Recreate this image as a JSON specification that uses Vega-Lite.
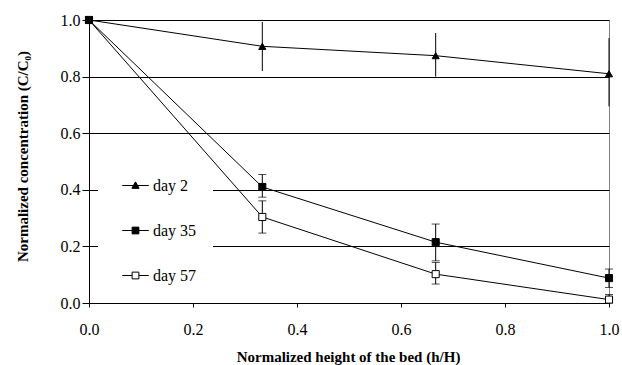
{
  "$schema": "https://vega.github.io/schema/vega-lite/v6.json",
  "width": 520,
  "height": 283,
  "autosize": {"type": "none"},
  "padding": {"left": 89, "top": 20, "right": 13, "bottom": 62},
  "background": "white",
  "config": {
    "font": "Liberation Serif, Times New Roman, serif",
    "view": {"stroke": "#808080", "strokeWidth": 1},
    "axis": {"labelFont": "Liberation Serif, Times New Roman, serif", "titleFont": "Liberation Serif, Times New Roman, serif"},
    "legend": {"labelFont": "Liberation Serif, Times New Roman, serif"}
  },
  "data": {
    "values": [
      {"series": "day 57", "h": 0, "c": 1.0, "lo": null, "hi": null},
      {"series": "day 57", "h": 0.3333, "c": 0.304, "lo": 0.247, "hi": 0.361},
      {"series": "day 57", "h": 0.6667, "c": 0.102, "lo": 0.067, "hi": 0.143},
      {"series": "day 57", "h": 1.0, "c": 0.012, "lo": 0.0, "hi": 0.03},
      {"series": "day 2", "h": 0, "c": 1.0, "lo": null, "hi": null},
      {"series": "day 2", "h": 0.3333, "c": 0.907, "lo": 0.82, "hi": 0.993},
      {"series": "day 2", "h": 0.6667, "c": 0.874, "lo": 0.8, "hi": 0.954},
      {"series": "day 2", "h": 1.0, "c": 0.81, "lo": 0.695, "hi": 0.936},
      {"series": "day 35", "h": 0, "c": 1.0, "lo": null, "hi": null},
      {"series": "day 35", "h": 0.3333, "c": 0.41, "lo": 0.374, "hi": 0.454},
      {"series": "day 35", "h": 0.6667, "c": 0.215, "lo": 0.149, "hi": 0.279},
      {"series": "day 35", "h": 1.0, "c": 0.088, "lo": 0.055, "hi": 0.12}
    ]
  },
  "resolve": {"scale": {"shape": "independent", "fill": "independent"}},
  "layer": [
    {
      "mark": {"type": "line", "color": "black", "strokeWidth": 1},
      "encoding": {
        "x": {
          "field": "h", "type": "quantitative",
          "scale": {"domain": [0, 1], "nice": false, "zero": false},
          "axis": {
            "values": [0, 0.2, 0.4, 0.6, 0.8, 1.0],
            "format": ".1f",
            "grid": false,
            "domainColor": "black",
            "domainWidth": 1,
            "tickColor": "black",
            "tickSize": 4,
            "labelFontSize": 16,
            "labelColor": "black",
            "labelPadding": 14,
            "labelFlush": false,
            "labelOverlap": false,
            "title": "Normalized height of the bed (h/H)",
            "titleFontSize": 15,
            "titleFontWeight": "bold",
            "titleColor": "black",
            "titleX": 259,
            "titleY": 53,
            "titleAlign": "center",
            "titleBaseline": "middle"
          }
        },
        "y": {
          "field": "c", "type": "quantitative",
          "scale": {"domain": [0, 1], "nice": false, "zero": false},
          "axis": {
            "values": [0, 0.1, 0.2, 0.3, 0.4, 0.5, 0.6, 0.7, 0.8, 0.9, 1.0],
            "labelExpr": "round(datum.value*10) % 2 == 0 ? format(datum.value, '.1f') : ''",
            "grid": true,
            "gridColor": "black",
            "gridWidth": 1,
            "gridOpacity": {"condition": {"test": "round(datum.value*10) % 2 == 1 || datum.value == 0", "value": 0}, "value": 1},
            "domainColor": "black",
            "domainWidth": 1,
            "tickColor": "black",
            "tickSize": {"condition": {"test": "round(datum.value*10) % 2 == 1", "value": 3}, "value": 7},
            "labelFontSize": 16,
            "labelColor": "black",
            "labelPadding": 2,
            "labelFlush": false,
            "labelOverlap": false,
            "title": "Normalized concentration (C/C₀)",
            "titleFontSize": 15,
            "titleFontWeight": "bold",
            "titleColor": "black",
            "titleAngle": 270,
            "titleX": -67,
            "titleY": 136,
            "titleAlign": "center",
            "titleBaseline": "middle"
          }
        },
        "detail": {"field": "series"}
      }
    },
    {
      "transform": [{"filter": "datum.lo != null"}],
      "mark": {"type": "rule", "color": "black", "strokeWidth": 1},
      "encoding": {
        "x": {"field": "h", "type": "quantitative"},
        "y": {"field": "lo", "type": "quantitative"},
        "y2": {"field": "hi"}
      }
    },
    {
      "transform": [{"filter": "datum.lo != null && datum.series != 'day 2'"}],
      "mark": {"type": "tick", "orient": "horizontal", "color": "black", "size": 8, "thickness": 1},
      "encoding": {
        "x": {"field": "h", "type": "quantitative"},
        "y": {"field": "lo", "type": "quantitative"}
      }
    },
    {
      "transform": [{"filter": "datum.lo != null && datum.series != 'day 2'"}],
      "mark": {"type": "tick", "orient": "horizontal", "color": "black", "size": 8, "thickness": 1},
      "encoding": {
        "x": {"field": "h", "type": "quantitative"},
        "y": {"field": "hi", "type": "quantitative"}
      }
    },
    {
      "mark": {"type": "point", "filled": true, "stroke": "black", "strokeWidth": 1, "opacity": 1, "size": 50},
      "encoding": {
        "x": {"field": "h", "type": "quantitative"},
        "y": {"field": "c", "type": "quantitative"},
        "shape": {
          "field": "series", "type": "nominal",
          "scale": {"domain": ["day 2", "day 35", "day 57"], "range": ["triangle-up", "square", "square"]},
          "legend": null
        },
        "fill": {
          "field": "series", "type": "nominal",
          "scale": {"domain": ["day 2", "day 35", "day 57"], "range": ["black", "black", "white"]},
          "legend": null
        }
      }
    },
    {
      "mark": {"type": "point", "filled": false, "color": "black", "strokeWidth": 1, "opacity": 1, "size": 0},
      "encoding": {
        "x": {"field": "h", "type": "quantitative"},
        "y": {"field": "c", "type": "quantitative"},
        "shape": {
          "field": "series", "type": "nominal",
          "scale": {"domain": ["day 2", "day 35", "day 57"], "range": [
            "M-1.66,0H1.66M0,-0.45L0.45,0.35H-0.45ZM-0.056,-0.35H0.056M-0.09,-0.29H0.09M-0.124,-0.23H0.124M-0.157,-0.17H0.157M-0.191,-0.11H0.191M-0.225,-0.05H0.225M-0.259,0.01H0.259M-0.293,0.07H0.293M-0.326,0.13H0.326M-0.36,0.19H0.36M-0.394,0.25H0.394M-0.428,0.31H0.428",
            "M-1.66,0H1.66M-0.42,-0.42H0.42V0.42H-0.42ZM-0.42,-0.36H0.42M-0.42,-0.3H0.42M-0.42,-0.24H0.42M-0.42,-0.18H0.42M-0.42,-0.12H0.42M-0.42,-0.06H0.42M-0.42,0.06H0.42M-0.42,0.12H0.42M-0.42,0.18H0.42M-0.42,0.24H0.42M-0.42,0.3H0.42M-0.42,0.36H0.42",
            "M-1.66,0H-0.42M0.42,0H1.66M-0.42,-0.42H0.42V0.42H-0.42Z"
          ]},
          "legend": {
            "title": null,
            "orient": "none",
            "legendX": 9,
            "legendY": 141,
            "fillColor": "white",
            "strokeColor": null,
            "padding": 16,
            "rowPadding": 28,
            "symbolSize": 256,
            "symbolOffset": 13,
            "labelOffset": 9,
            "labelFontSize": 16,
            "labelColor": "black",
            "symbolOpacity": 1,
            "symbolStrokeColor": "black",
            "symbolStrokeWidth": 1
          }
        }
      }
    }
  ]
}
